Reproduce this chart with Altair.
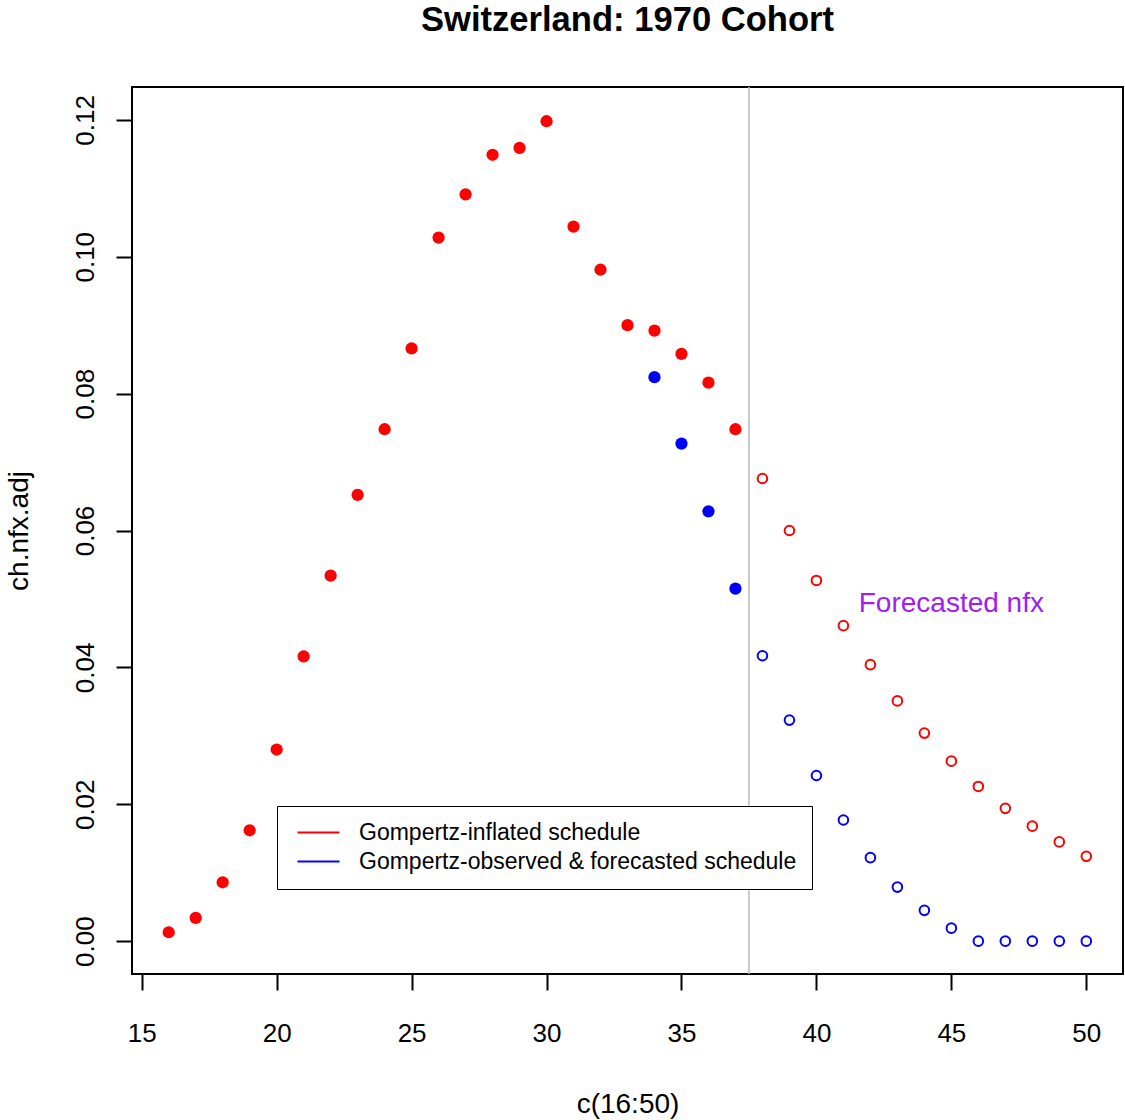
import altair as alt
import pandas as pd

FONT = "Liberation Sans"

# ---- data ----
ages_obs = list(range(16, 38))
red_obs = [0.0013, 0.0034, 0.0086, 0.0162, 0.0280, 0.0416, 0.0534, 0.0652,
           0.0748, 0.0866, 0.1028, 0.1091, 0.1149, 0.1159, 0.1198, 0.1044,
           0.0981, 0.0900, 0.0892, 0.0858, 0.0816, 0.0748]
ages_blue_obs = [34, 35, 36, 37]
blue_obs = [0.0824, 0.0727, 0.0628, 0.0515]
ages_fc = list(range(38, 51))
red_fc = [0.0676, 0.0600, 0.0527, 0.0461, 0.0404, 0.0351, 0.0304, 0.0263,
          0.0226, 0.0194, 0.0168, 0.0145, 0.0124]
blue_fc = [0.0417, 0.0323, 0.0242, 0.0177, 0.0122, 0.0079, 0.0045, 0.0019,
           0.0, 0.0, 0.0, 0.0, 0.0]
series_names = ["Gompertz-inflated schedule", "Gompertz-observed & forecasted schedule"]
series_colors = ["#FF0000", "#0000FF"]
cutoff = [37.5]
note_x = [45]
note_y = [0.05]
note_text = ["Forecasted nfx"]
x_ticks = [15, 20, 25, 30, 35, 40, 45, 50]
y_ticks = [0.00, 0.02, 0.04, 0.06, 0.08, 0.10, 0.12]

obs = pd.DataFrame({
    "age": ages_obs + ages_blue_obs,
    "value": red_obs + blue_obs,
    "series": [series_names[0]] * len(ages_obs) + [series_names[1]] * len(ages_blue_obs),
})
fc = pd.DataFrame({
    "age": ages_fc + ages_fc,
    "value": red_fc + blue_fc,
    "series": [series_names[0]] * len(ages_fc) + [series_names[1]] * len(ages_fc),
})
cut_df = pd.DataFrame({"x": cutoff})
note_df = pd.DataFrame({"x": note_x, "y": note_y, "t": note_text})

# R-style 4% axis extension
xmin, xmax = 16, 50
ymin, ymax = 0.0, 0.12
xd = [xmin - 0.04 * (xmax - xmin), xmax + 0.04 * (xmax - xmin)]
yd = [ymin - 0.04 * (ymax - ymin), ymax + 0.04 * (ymax - ymin)]

xscale = alt.Scale(domain=xd, nice=False, zero=False)
yscale = alt.Scale(domain=yd, nice=False, zero=False)

xaxis = alt.Axis(values=x_ticks, title="c(16:50)", format="d", grid=False, domain=False,
                 tickSize=16, tickWidth=2, tickColor="black",
                 labelFont=FONT, titleFont=FONT, labelColor="black", titleColor="black",
                 labelFontSize=26, titleFontSize=28, labelBaseline="middle",
                 labelPadding=43, titleY=138, titleBaseline="alphabetic",
                 titleFontWeight="normal")
yaxis = alt.Axis(values=y_ticks, title="ch.nfx.adj", format=".2f", grid=False, domain=False,
                 tickSize=16, tickWidth=2, tickColor="black",
                 labelFont=FONT, titleFont=FONT, labelColor="black", titleColor="black",
                 labelFontSize=26, titleFontSize=28, labelAngle=270,
                 labelAlign="center", labelBaseline="middle", labelPadding=31,
                 titleAngle=270, titleX=-105, titleBaseline="alphabetic",
                 titleFontWeight="normal")

legend = alt.Legend(orient="none", legendX=145, legendY=719, title=None,
                    symbolType="M-3,0H3", symbolSize=196, symbolStrokeWidth=2,
                    symbolOffset=15, labelOffset=29, padding=15, rowPadding=5,
                    strokeColor="black", fillColor="white", labelFontSize=23,
                    labelFont=FONT, labelLimit=0, labelColor="black")
color = alt.Color("series:N", scale=alt.Scale(domain=series_names, range=series_colors),
                  legend=legend)

x = alt.X("age:Q", scale=xscale, axis=xaxis)
y = alt.Y("value:Q", scale=yscale, axis=yaxis)

rule = alt.Chart(cut_df).mark_rule(color="#BEBEBE", strokeWidth=1.6).encode(
    x=alt.X("x:Q", scale=xscale, axis=xaxis))

open_pts = alt.Chart(fc).mark_point(shape="circle", filled=False, size=92,
                                    strokeWidth=2, opacity=1).encode(x=x, y=y, color=color)

filled_pts = alt.Chart(obs).mark_circle(size=150, opacity=1).encode(x=x, y=y, color=color)

note = alt.Chart(note_df).mark_text(color="#A020F0", fontSize=28, font=FONT,
                                    align="center", baseline="middle", dy=5).encode(
    x=alt.X("x:Q", scale=xscale, axis=xaxis),
    y=alt.Y("y:Q", scale=yscale, axis=yaxis),
    text="t:N")

chart = alt.layer(rule, open_pts, filled_pts, note).properties(
    width=991, height=887,
    title=alt.TitleParams("Switzerland: 1970 Cohort", fontSize=34.6, fontWeight="bold",
                          font=FONT, anchor="middle", baseline="alphabetic", offset=21,
                          color="black"),
    autosize=alt.AutoSizeParams(type="none"),
    padding={"left": 132, "top": 87, "right": 2, "bottom": 146},
).configure(background="white").configure_view(
    stroke="black", strokeWidth=2
).configure_axis(
    domain=False, grid=False, tickColor="black", tickWidth=2, tickSize=16,
    labelFont=FONT, titleFont=FONT, labelColor="black", titleColor="black",
)

chart.save("out.html", embed_options={"renderer": "svg", "actions": False})
